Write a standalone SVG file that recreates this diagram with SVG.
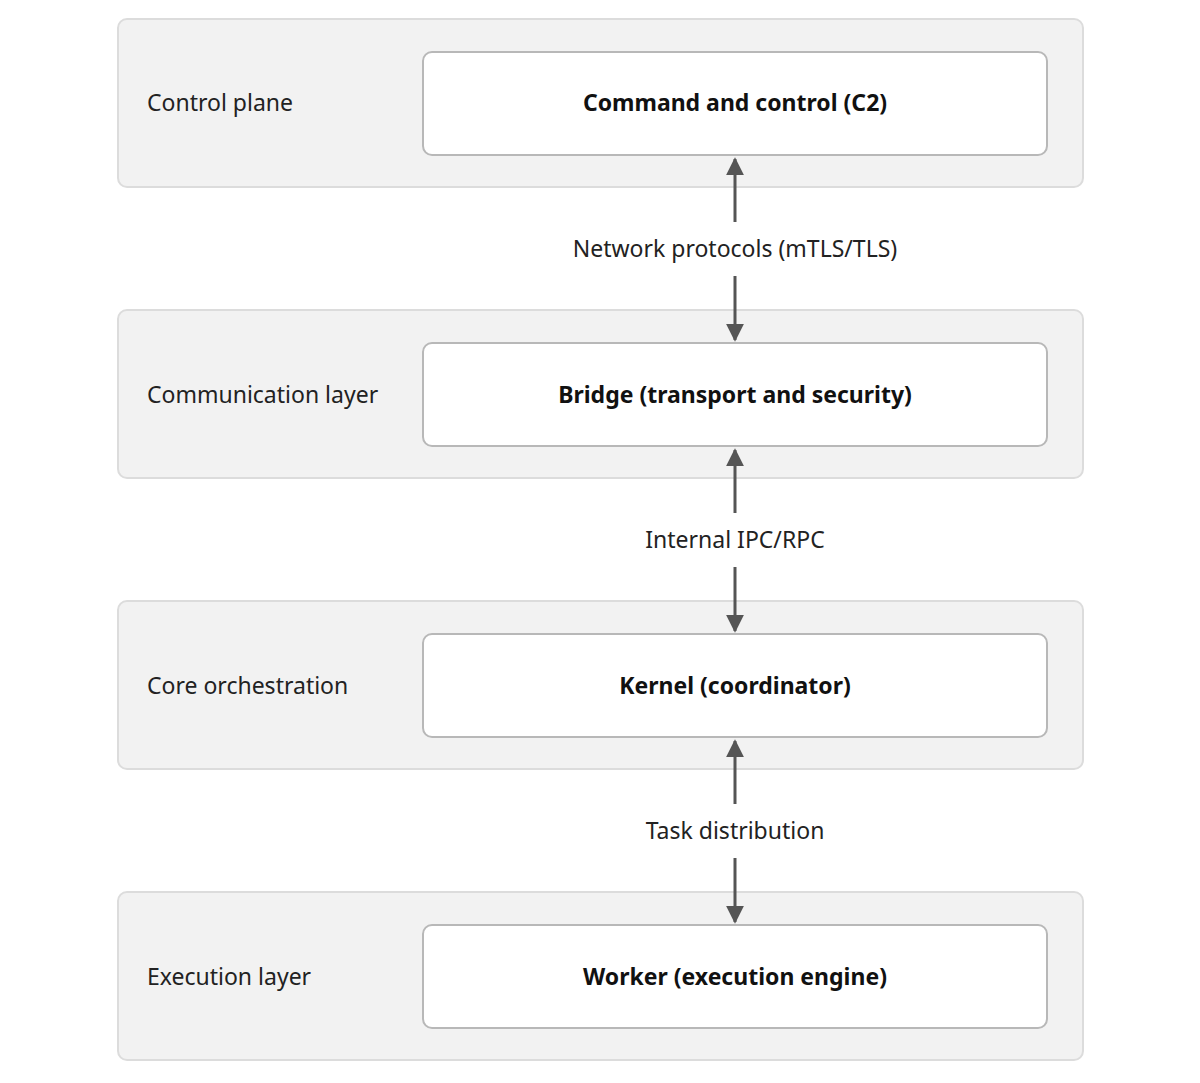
<svg xmlns="http://www.w3.org/2000/svg" width="1200" height="1083" viewBox="0 0 1200 1083">
<style>
.panel{fill:#f2f2f2;stroke:#dcdcdc;stroke-width:2}
.box{fill:#fff;stroke:#b8b8b8;stroke-width:2}
.lbl{font-family:"Noto Sans","Open Sans",sans-serif;font-size:23px;fill:#222}
.title{font-family:"Noto Sans","Open Sans",sans-serif;font-size:23px;font-weight:bold;fill:#111;text-anchor:middle}
.edge{font-family:"Noto Sans","Open Sans",sans-serif;font-size:23px;fill:#222;text-anchor:middle}
.conn{stroke:#555;stroke-width:3;fill:none}
</style>
<defs><marker id="ah" viewBox="0 0 10 10" refX="9" refY="5" markerWidth="6" markerHeight="6" markerUnits="strokeWidth" orient="auto"><path d="M0,0 L10,5 L0,10 z" fill="#555"/></marker></defs>
<rect width="1200" height="1083" fill="#fff"/>
<g id="n1"><rect class="panel" x="118" y="19" width="965" height="168" rx="9"/><text class="lbl" x="147" y="111">Control plane</text><rect class="box" x="423" y="52" width="624" height="103" rx="9"/><text class="title" x="735" y="111">Command and control (C2)</text></g>
<g id="n2"><rect class="panel" x="118" y="310" width="965" height="168" rx="9"/><text class="lbl" x="147" y="403">Communication layer</text><rect class="box" x="423" y="343" width="624" height="103" rx="9"/><text class="title" x="735" y="403">Bridge (transport and security)</text></g>
<g id="n3"><rect class="panel" x="118" y="601" width="965" height="168" rx="9"/><text class="lbl" x="147" y="694">Core orchestration</text><rect class="box" x="423" y="634" width="624" height="103" rx="9"/><text class="title" x="735" y="694">Kernel (coordinator)</text></g>
<g id="n4"><rect class="panel" x="118" y="892" width="965" height="168" rx="9"/><text class="lbl" x="147" y="985">Execution layer</text><rect class="box" x="423" y="925" width="624" height="103" rx="9"/><text class="title" x="735" y="985">Worker (execution engine)</text></g>
<g id="connectors">
<line class="conn" x1="735" y1="222" x2="735" y2="159" marker-end="url(#ah)"/>
<line class="conn" x1="735" y1="276" x2="735" y2="340" marker-end="url(#ah)"/>
<text class="edge" x="735" y="257">Network protocols (mTLS/TLS)</text>
<line class="conn" x1="735" y1="513" x2="735" y2="450" marker-end="url(#ah)"/>
<line class="conn" x1="735" y1="567" x2="735" y2="631" marker-end="url(#ah)"/>
<text class="edge" x="735" y="548">Internal IPC/RPC</text>
<line class="conn" x1="735" y1="804" x2="735" y2="741" marker-end="url(#ah)"/>
<line class="conn" x1="735" y1="858" x2="735" y2="922" marker-end="url(#ah)"/>
<text class="edge" x="735" y="839">Task distribution</text>
</g>
</svg>
